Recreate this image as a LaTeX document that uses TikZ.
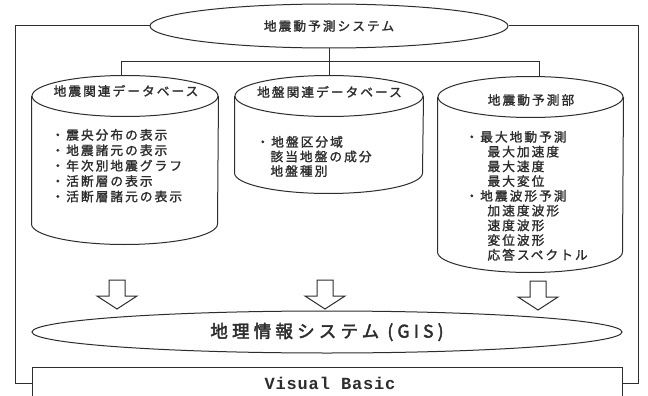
\documentclass[tikz,border=0pt]{standalone}
\usepackage{fontspec}
\setmainfont{Noto Sans CJK JP}
\newfontfamily\jpf[LetterSpace=16,FakeBold=1.5]{Noto Sans CJK JP}
\newfontfamily\gisf[LetterSpace=24,FakeBold=2.4]{Noto Sans CJK JP}
\newfontfamily\vbf[LetterSpace=5]{Liberation Mono}
\usetikzlibrary{shapes.geometric,calc}
\definecolor{ink}{RGB}{45,45,45}
\newcommand\drawcyl[3]{%
  \draw ($(#1.north)+(0,#3)$) ellipse [x radius=#2pt, y radius=#3pt];
  \draw ($(#1.north west)+(0,#3)$) -- ($(#1.south west)+(0,-#3)$)
     arc [start angle=180, end angle=360, x radius=#2pt, y radius=#3pt]
     -- ($(#1.north east)+(0,#3)$);
}
\newcommand\blockarrow[2]{%
  \draw ({#1-8},{#2}) -- ({#1+8},{#2}) -- ({#1+8},{#2+16}) -- ({#1+20},{#2+16})
     -- ({#1},{#2+29}) -- ({#1-20},{#2+16}) -- ({#1-8},{#2+16}) -- cycle;
}
\begin{document}
\begin{tikzpicture}[x=1pt,y=-1pt,color=ink,line width=1pt,line join=miter,
  bigell/.style={ellipse, draw, inner sep=0pt},
  cylbox/.style={rectangle, inner sep=0pt},
  title/.style={inner sep=0pt, font=\jpf\fontsize{12.7}{15}\selectfont},
  items/.style={inner sep=0pt, align=left, anchor=north west},
  itemfont/.style={font=\jpf\fontsize{12.7}{#1}\selectfont}]
\useasboundingbox (0,0) rectangle (648,396);
\clip (0,0) rectangle (648,396);
\fill[white] (0,0) rectangle (648,396);

% top system ellipse
\node[bigell, minimum width=358pt, minimum height=44pt, title] (sys) at (329,26) {地震動予測システム};

% cylinders
\node[cylbox, minimum width=186pt, minimum height=168pt] (c1) at (125,160) {};
\node[cylbox, minimum width=188pt, minimum height=117pt] (c2) at (329,134.5) {};
\node[cylbox, minimum width=185pt, minimum height=195pt] (c3) at (530.5,174.5) {};
\drawcyl{c1}{93}{20.5}
\drawcyl{c2}{94}{20.5}
\drawcyl{c3}{92.5}{20.5}

\node[title] (t1) at (126,91) {地震関連データベース};
\node[title] (t2) at (329.5,92) {地盤関連データベース};
\node[title] (t3) at (531,100) {地震動予測部};

\node[items, itemfont=15.4] (l1) at (51,128.5) {・震央分布の表示\\・地震諸元の表示\\・年次別地震グラフ\\・活断層の表示\\・活断層諸元の表示};
\node[items, itemfont=14.6] (l2) at (256,135.5) {・地盤区分域\\\hspace*{14pt}該当地盤の成分\\\hspace*{14pt}地盤種別};
\node[items, itemfont=14.75] (l3) at (465,130.5) {・最大地動予測\\\hspace*{22pt}最大加速度\\\hspace*{22pt}最大速度\\\hspace*{22pt}最大変位\\・地震波形予測\\\hspace*{22pt}加速度波形\\\hspace*{22pt}速度波形\\\hspace*{22pt}変位波形\\\hspace*{22pt}応答スペクトル};

% tree connectors
\coordinate (jn) at (329,62);
\coordinate (b1) at (121,62);
\coordinate (b3) at (539,62);
\draw (sys.south) -- (jn);
\draw (b1 |- c1.north) -- (b1) -- (b3) -- (b3 |- c3.north);
\draw (jn) -- (c2.north);

% hollow arrows
\blockarrow{117}{280}
\blockarrow{325}{280}
\blockarrow{538}{281}

% GIS ellipse
\node[bigell, minimum width=590pt, minimum height=42pt, font=\gisf\fontsize{17.5}{18}\selectfont] (gis) at (327,332) {地理情報システム (GIS)};

% Visual Basic box
\node[draw, rectangle, inner sep=0pt, anchor=north west, minimum width=590pt, minimum height=50pt] (vb) at (32,367) {};
\node[inner sep=0pt, font=\vbf\bfseries\fontsize{17}{17}\selectfont] (vbt) at (330,383) {Visual Basic};

% outer frame
\coordinate (fl) at (15,383);
\coordinate (fr) at (638,383);
\draw (sys.west) -| (fl) -- (fl -| vb.west);
\draw (sys.east) -| (fr) -- (fr -| vb.east);
\end{tikzpicture}
\end{document}
